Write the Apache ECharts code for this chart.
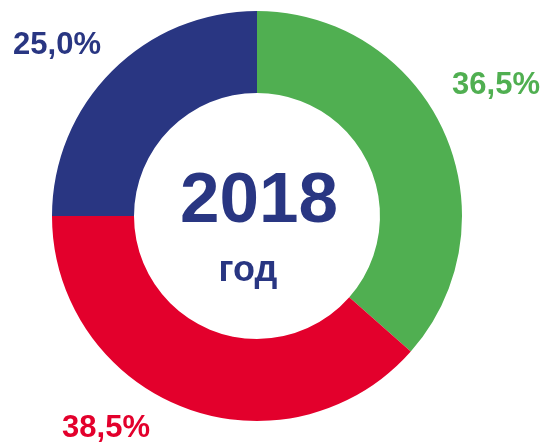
<!DOCTYPE html>
<html>
<head>
<meta charset="utf-8">
<script src="https://cdn.jsdelivr.net/npm/echarts@6/dist/echarts.min.js"></script>
<style>
  html, body { margin: 0; padding: 0; background: #fff; }
  #main { width: 545px; height: 444px; }
</style>
</head>
<body>
<div id="main"></div>
<script>
// данные диаграммы
var categories = ['A', 'B', 'C']
var values = [36.5, 38.5, 25.0]
var colors = ['#50af51', '#e3002c', '#293682']
// куда ставить подписи (центр текста)
var labelPos = [[496, 85], [106, 428], [57, 45]]

var chart = echarts.init(document.getElementById('main'))
var option = {
  animation: false,
  color: colors,
  graphic: [
    {
      type: 'text',
      style: {
        text: '2018',
        x: 259,
        y: 202,
        align: 'center',
        verticalAlign: 'middle',
        fill: '#293682',
        font: 'bold 71px "Liberation Sans", Arial, sans-serif'
      }
    },
    {
      type: 'text',
      style: {
        text: 'год',
        x: 248,
        y: 271,
        align: 'center',
        verticalAlign: 'middle',
        fill: '#293682',
        font: 'bold 36px "Liberation Sans", Arial, sans-serif'
      }
    }
  ],
  series: [
    {
      type: 'pie',
      center: [257, 216],
      radius: [123, 205],
      startAngle: 90,
      clockwise: true,
      silent: true,
      label: {
        show: true,
        position: 'outside',
        overflow: 'none',
        fontFamily: '"Liberation Sans", Arial, sans-serif',
        fontWeight: 'bold',
        fontSize: 31,
        formatter: function (p) {
          return p.value.toFixed(1).replace('.', ',') + '%'
        }
      },
      labelLine: { show: false },
      labelLayout: function (params) {
        var pos = labelPos[params.dataIndex]
        return { x: pos[0], y: pos[1], align: 'center', verticalAlign: 'middle', width: 200 }
      },
      data: categories.map(function (c, i) {
        return { name: c, value: values[i], label: { color: colors[i] } }
      })
    }
  ]
}
chart.setOption(option)
</script>
</body>
</html>
